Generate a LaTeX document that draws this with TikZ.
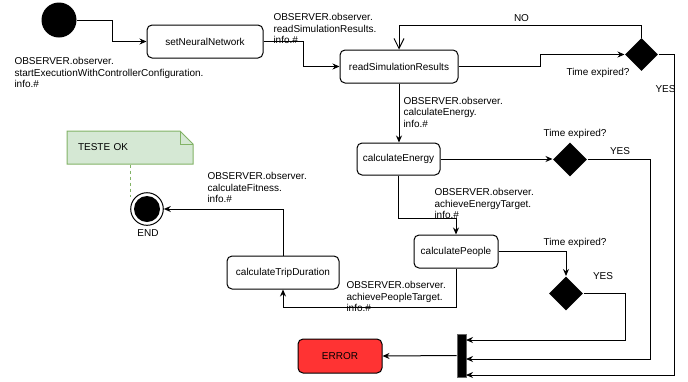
\documentclass[tikz,border=0pt]{standalone}
\usepackage{fontspec}
\setmainfont{Liberation Sans}
\usetikzlibrary{arrows.meta,shapes.geometric}
\definecolor{notefill}{HTML}{D5E8D4}
\definecolor{noteline}{HTML}{82B366}
\definecolor{errred}{HTML}{FF3333}
\begin{document}
\begin{tikzpicture}[x=1pt,y=-1pt,
  font=\fontsize{10}{11.5}\selectfont,
  line width=1pt,
  box/.style={draw, rounded corners=5pt, minimum height=33pt, inner sep=0pt},
  dia/.style={diamond, fill=black, draw=none, minimum width=33pt, minimum height=33pt, inner sep=0pt},
  lbl/.style={inner sep=0pt, align=left, anchor=north west},
  tag/.style={inner sep=0pt, text height=7.2pt, text depth=2pt},
  arr/.style={-{Stealth[length=7pt,width=6pt]}},
  oarr/.style={-{Straight Barb[length=10pt,width=10pt]}}]
\useasboundingbox (0,0) rectangle (688,381);

% nodes
\node[circle, fill=black, minimum size=35pt, inner sep=0pt] (start) at (59,20) {};
\node[box, minimum width=116pt] (setnn) at (205,41.5) {setNeuralNetwork};
\node[box, minimum width=118pt] (readsim) at (399,66.5) {readSimulationResults};
\node[box, minimum width=83pt, minimum height=32pt] (calce) at (398.5,159) {calculateEnergy};
\node[box, minimum width=84pt] (calcp) at (456,251.5) {calculatePeople};
\node[box, minimum width=112pt] (calctrip) at (283,272.5) {calculateTripDuration};
\node[box, minimum width=84pt, minimum height=34pt, fill=errred] (error) at (340,356) {ERROR};

\node[dia] (dia1) at (641.5,54.5) {};
\node[dia, minimum width=34pt, minimum height=34pt] (dia2) at (570,159.5) {};
\node[dia, minimum width=34pt, minimum height=34pt] (dia3) at (566,293.5) {};

\node[rectangle, fill=black, draw=black!60, minimum width=9pt, minimum height=43pt, inner sep=0pt] (bar) at (461.5,355.5) {};

\node[circle, draw, fill=white, minimum size=32.6pt, inner sep=0pt] (end) at (147,209) {};
\fill[black] (end.center) circle[radius=13pt];
\node[tag] (endlbl) at (148,234) {END};

% note
\draw[fill=notefill, draw=noteline] (67,131) -- (180,131) -- (193,144) -- (193,164) -- (67,164) -- cycle;
\draw[noteline] (180,131) -- (180,144) -- (193,144);
\node[minimum width=126pt, minimum height=33pt, inner xsep=11pt, inner ysep=0pt, text width=104pt, align=left] (note) at (130,147.5) {TESTE OK};
\draw[noteline, dash pattern=on 3pt off 3pt] (note.south) -- (note.south |- end.north west);

% labels
\node[lbl] (l1) at (14,57) {OBSERVER.observer.\\startExecutionWithControllerConfiguration.\\info.\#};
\node[lbl] (l2) at (273,13) {OBSERVER.observer.\\readSimulationResults.\\info.\#};
\node[lbl] (l3) at (403,96.5) {OBSERVER.observer.\\calculateEnergy.\\info.\#};
\node[lbl] (l4) at (434,188) {OBSERVER.observer.\\achieveEnergyTarget.\\info.\#};
\node[lbl] (l5) at (346,281) {OBSERVER.observer.\\achievePeopleTarget.\\info.\#};
\node[lbl] (l6) at (207,172) {OBSERVER.observer.\\calculateFitness.\\info.\#};

\node[tag] (t1) at (598,73) {Time expired?};
\node[tag] (t2) at (575,134) {Time expired?};
\node[tag] (t3) at (575,243) {Time expired?};
\node[tag] (y1) at (665.5,90) {YES};
\node[tag] (y2) at (620,152) {YES};
\node[tag] (y3) at (603,277) {YES};
\node[tag] (no) at (521.5,18.5) {NO};

% coordinates
\coordinate (in1) at (466,340);
\coordinate (in2) at (466,359);
\coordinate (in3) at (466,375);
\coordinate (nocorner) at (399,25);

% edges
\draw[arr] (start.east) -- (112,20) |- (setnn.west);
\draw[arr] (setnn.east) -- (303,41.5) |- (readsim.west);
\draw[arr] (readsim.east) -- (540,66.5) |- (dia1.west);
\draw[oarr] (dia1.north) |- (nocorner) -- (readsim.north);
\draw[arr] (dia1.east) -- (674,54.5) |- (in3);
\draw[arr] (readsim.south) -- (readsim.south |- calce.north);
\draw[arr] (calce.east) -- (calce.east -| dia2.west);
\draw[arr] (dia2.east) -- (650,159.5) |- (in2);
\draw[arr] (calce.south) |- (456,218) -| (calcp.north);
\draw[arr] (calcp.east) -| (dia3.north);
\draw[arr] (dia3.east) -- (625,293.5) |- (in1);
\draw[arr] (calcp.south) |- (283,307) -| (calctrip.south);
\draw[arr] (calctrip.north) |- (end.east);
\draw[arr] (bar.west) -- (error.east);
\end{tikzpicture}
\end{document}
